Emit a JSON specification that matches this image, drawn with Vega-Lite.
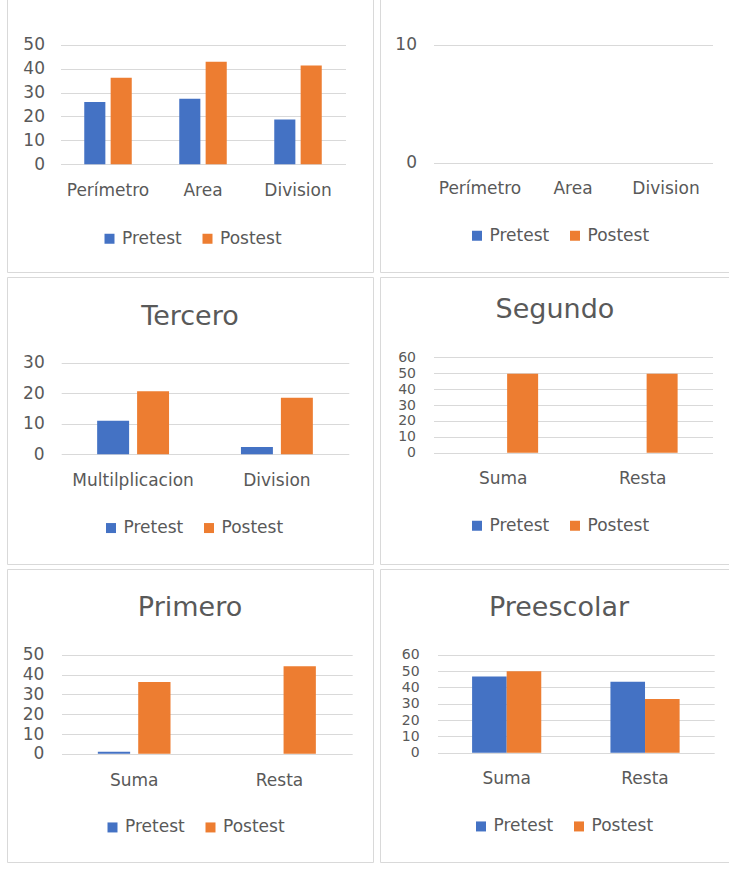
{
  "$schema": "https://vega.github.io/schema/vega-lite/v6.json",
  "padding": {"left": 6, "top": -20, "right": 0, "bottom": 4},
  "background": "white",
  "datasets": {
    "p1": [
      {"cat": "Perímetro", "serie": "Pretest", "value": 26},
      {"cat": "Perímetro", "serie": "Postest", "value": 36.2},
      {"cat": "Area", "serie": "Pretest", "value": 27.4},
      {"cat": "Area", "serie": "Postest", "value": 42.9},
      {"cat": "Division", "serie": "Pretest", "value": 18.7},
      {"cat": "Division", "serie": "Postest", "value": 41.3}
    ],
    "p2": [
      {"cat": "Perímetro", "serie": "Pretest", "value": 0},
      {"cat": "Perímetro", "serie": "Postest", "value": 0},
      {"cat": "Area", "serie": "Pretest", "value": 0},
      {"cat": "Area", "serie": "Postest", "value": 0},
      {"cat": "Division", "serie": "Pretest", "value": 0},
      {"cat": "Division", "serie": "Postest", "value": 0}
    ],
    "p3": [
      {"cat": "Multilplicacion", "serie": "Pretest", "value": 11},
      {"cat": "Multilplicacion", "serie": "Postest", "value": 20.7},
      {"cat": "Division", "serie": "Pretest", "value": 2.4},
      {"cat": "Division", "serie": "Postest", "value": 18.5}
    ],
    "p4": [
      {"cat": "Suma", "serie": "Pretest", "value": 0},
      {"cat": "Suma", "serie": "Postest", "value": 49.6},
      {"cat": "Resta", "serie": "Pretest", "value": 0},
      {"cat": "Resta", "serie": "Postest", "value": 49.6}
    ],
    "p5": [
      {"cat": "Suma", "serie": "Pretest", "value": 1},
      {"cat": "Suma", "serie": "Postest", "value": 36.2},
      {"cat": "Resta", "serie": "Pretest", "value": 0},
      {"cat": "Resta", "serie": "Postest", "value": 44.2}
    ],
    "p6": [
      {"cat": "Suma", "serie": "Pretest", "value": 46.7},
      {"cat": "Suma", "serie": "Postest", "value": 50},
      {"cat": "Resta", "serie": "Pretest", "value": 43.5},
      {"cat": "Resta", "serie": "Postest", "value": 32.9}
    ]
  },
  "vconcat": [
    {
      "hconcat": [
        {
          "width": 366, "height": 291,
          "data": {"name": "p1"},
          "mark": {"type": "bar"},
          "encoding": {
            "x": {"field": "cat", "type": "nominal", "sort": ["Perímetro", "Area", "Division"], "title": null,
                  "scale": {"range": [53.5, 338.5], "paddingInner": 0, "paddingOuter": 0},
                  "axis": {"offset": -107.8, "labelPadding": 26.3, "labelBaseline": "middle", "labelAngle": 0, "grid": false}},
            "xOffset": {"field": "serie", "type": "nominal", "sort": ["Pretest", "Postest"], "scale": {"paddingInner": 0.2, "paddingOuter": 0.9}},
            "y": {"field": "value", "type": "quantitative", "title": null,
                  "scale": {"domain": [0, 50], "range": [183.2, 63.8], "nice": false},
                  "axis": {"values": [0, 10, 20, 30, 40, 50], "offset": -53.5, "labelPadding": 16, "grid": true}},
            "color": {"field": "serie", "type": "nominal", "scale": {"domain": ["Pretest", "Postest"], "range": ["#4472C4", "#ED7D31"]},
                      "legend": {"orient": "none", "legendX": 94, "legendY": 249, "direction": "horizontal", "title": null}}
          }
        },
        {
          "width": 350, "height": 291,
          "data": {"name": "p2"},
          "mark": {"type": "bar"},
          "encoding": {
            "x": {"field": "cat", "type": "nominal", "sort": ["Perímetro", "Area", "Division"], "title": null,
                  "scale": {"range": [53.5, 332.5], "paddingInner": 0, "paddingOuter": 0},
                  "axis": {"offset": -109.2, "labelPadding": 26, "labelBaseline": "middle", "labelAngle": 0, "grid": false}},
            "xOffset": {"field": "serie", "type": "nominal", "sort": ["Pretest", "Postest"], "scale": {"paddingInner": 0.2, "paddingOuter": 0.9}},
            "y": {"field": "value", "type": "quantitative", "title": null,
                  "scale": {"domain": [0, 10], "range": [181.8, 63.8], "nice": false},
                  "axis": {"values": [0, 10], "offset": -53.5, "labelPadding": 17, "grid": true}},
            "color": {"field": "serie", "type": "nominal", "scale": {"domain": ["Pretest", "Postest"], "range": ["#4472C4", "#ED7D31"]},
                      "legend": {"orient": "none", "legendX": 88.5, "legendY": 246, "direction": "horizontal", "title": null}}
          }
        }
      ],
      "spacing": 5,
      "resolve": {"scale": {"color": "independent", "xOffset": "independent"}}
    },
    {
      "hconcat": [
        {
          "width": 366, "height": 287,
          "data": {"name": "p3"},
          "title": {"text": "Tercero", "offset": -67, "baseline": "middle"},
          "mark": {"type": "bar"},
          "encoding": {
            "x": {"field": "cat", "type": "nominal", "sort": ["Multilplicacion", "Division"], "title": null,
                  "scale": {"range": [54.2, 341.8], "paddingInner": 0, "paddingOuter": 0},
                  "axis": {"offset": -109.8, "labelPadding": 26.3, "labelBaseline": "middle", "labelAngle": 0, "grid": false}},
            "xOffset": {"field": "serie", "type": "nominal", "sort": ["Pretest", "Postest"], "scale": {"paddingInner": 0.2, "paddingOuter": 0.9}},
            "y": {"field": "value", "type": "quantitative", "title": null,
                  "scale": {"domain": [0, 30], "range": [177.2, 85.8], "nice": false},
                  "axis": {"values": [0, 10, 20, 30], "offset": -54.2, "labelPadding": 17, "grid": true}},
            "color": {"field": "serie", "type": "nominal", "scale": {"domain": ["Pretest", "Postest"], "range": ["#4472C4", "#ED7D31"]},
                      "legend": {"orient": "none", "legendX": 95.5, "legendY": 242.3, "direction": "horizontal", "title": null}}
          }
        },
        {
          "width": 350, "height": 287,
          "data": {"name": "p4"},
          "title": {"text": "Segundo", "offset": -60, "baseline": "middle"},
          "mark": {"type": "bar"},
          "encoding": {
            "x": {"field": "cat", "type": "nominal", "sort": ["Suma", "Resta"], "title": null,
                  "scale": {"range": [53.5, 332.5], "paddingInner": 0, "paddingOuter": 0},
                  "axis": {"offset": -111.2, "labelPadding": 26, "labelBaseline": "middle", "labelAngle": 0, "grid": false}},
            "xOffset": {"field": "serie", "type": "nominal", "sort": ["Pretest", "Postest"], "scale": {"paddingInner": 0.2, "paddingOuter": 0.9}},
            "y": {"field": "value", "type": "quantitative", "title": null,
                  "scale": {"domain": [0, 60], "range": [175.8, 80.2], "nice": false},
                  "axis": {"values": [0, 10, 20, 30, 40, 50, 60], "offset": -53.5, "labelPadding": 18, "labelFontSize": 14, "grid": true}},
            "color": {"field": "serie", "type": "nominal", "scale": {"domain": ["Pretest", "Postest"], "range": ["#4472C4", "#ED7D31"]},
                      "legend": {"orient": "none", "legendX": 88.5, "legendY": 240, "direction": "horizontal", "title": null}}
          }
        }
      ],
      "spacing": 5,
      "resolve": {"scale": {"color": "independent", "xOffset": "independent"}}
    },
    {
      "hconcat": [
        {
          "width": 366, "height": 293,
          "data": {"name": "p5"},
          "title": {"text": "Primero", "offset": -66, "baseline": "middle"},
          "mark": {"type": "bar"},
          "encoding": {
            "x": {"field": "cat", "type": "nominal", "sort": ["Suma", "Resta"], "title": null,
                  "scale": {"range": [54.5, 345.2], "paddingInner": 0, "paddingOuter": 0},
                  "axis": {"offset": -108.2, "labelPadding": 26.7, "labelBaseline": "middle", "labelAngle": 0, "grid": false}},
            "xOffset": {"field": "serie", "type": "nominal", "sort": ["Pretest", "Postest"], "scale": {"paddingInner": 0.2, "paddingOuter": 0.9}},
            "y": {"field": "value", "type": "quantitative", "title": null,
                  "scale": {"domain": [0, 50], "range": [184.8, 85.8], "nice": false},
                  "axis": {"values": [0, 10, 20, 30, 40, 50], "offset": -54.5, "labelPadding": 17.7, "grid": true}},
            "color": {"field": "serie", "type": "nominal", "scale": {"domain": ["Pretest", "Postest"], "range": ["#4472C4", "#ED7D31"]},
                      "legend": {"orient": "none", "legendX": 97, "legendY": 249.7, "direction": "horizontal", "title": null}}
          }
        },
        {
          "width": 350, "height": 293,
          "data": {"name": "p6"},
          "title": {"text": "Preescolar", "offset": -66, "baseline": "middle", "dx": 4},
          "mark": {"type": "bar"},
          "encoding": {
            "x": {"field": "cat", "type": "nominal", "sort": ["Suma", "Resta"], "title": null,
                  "scale": {"range": [57.5, 334.2], "paddingInner": 0, "paddingOuter": 0},
                  "axis": {"offset": -109.2, "labelPadding": 26, "labelBaseline": "middle", "labelAngle": 0, "grid": false}},
            "xOffset": {"field": "serie", "type": "nominal", "sort": ["Pretest", "Postest"], "scale": {"paddingInner": 0, "paddingOuter": 1.12}},
            "y": {"field": "value", "type": "quantitative", "title": null,
                  "scale": {"domain": [0, 60], "range": [183.8, 85.8], "nice": false},
                  "axis": {"values": [0, 10, 20, 30, 40, 50, 60], "offset": -57.5, "labelPadding": 18.3, "labelFontSize": 14, "grid": true}},
            "color": {"field": "serie", "type": "nominal", "scale": {"domain": ["Pretest", "Postest"], "range": ["#4472C4", "#ED7D31"]},
                      "legend": {"orient": "none", "legendX": 92.5, "legendY": 248.7, "direction": "horizontal", "title": null}}
          }
        }
      ],
      "spacing": 5,
      "resolve": {"scale": {"color": "independent", "xOffset": "independent"}}
    }
  ],
  "spacing": 3,
  "resolve": {"scale": {"color": "independent", "xOffset": "independent"}},
  "config": {
    "font": "DejaVu Sans",
    "view": {"stroke": "#d9d9d9", "strokeWidth": 1},
    "axis": {
      "labelFont": "DejaVu Sans", "labelFontSize": 17, "labelColor": "#595959",
      "domain": false, "ticks": false, "tickSize": 0,
      "gridColor": "#d9d9d9", "gridWidth": 1, "labelOverlap": false, "labelFlush": false
    },
    "legend": {
      "labelFont": "DejaVu Sans", "labelFontSize": 17, "labelColor": "#595959",
      "symbolType": "square", "symbolSize": 100, "symbolStrokeWidth": 0,
      "labelOffset": 4, "columnPadding": 17, "padding": 0
    },
    "title": {
      "font": "DejaVu Sans", "fontSize": 27, "fontWeight": "normal", "color": "#595959",
      "anchor": "middle", "frame": "group"
    }
  }
}
